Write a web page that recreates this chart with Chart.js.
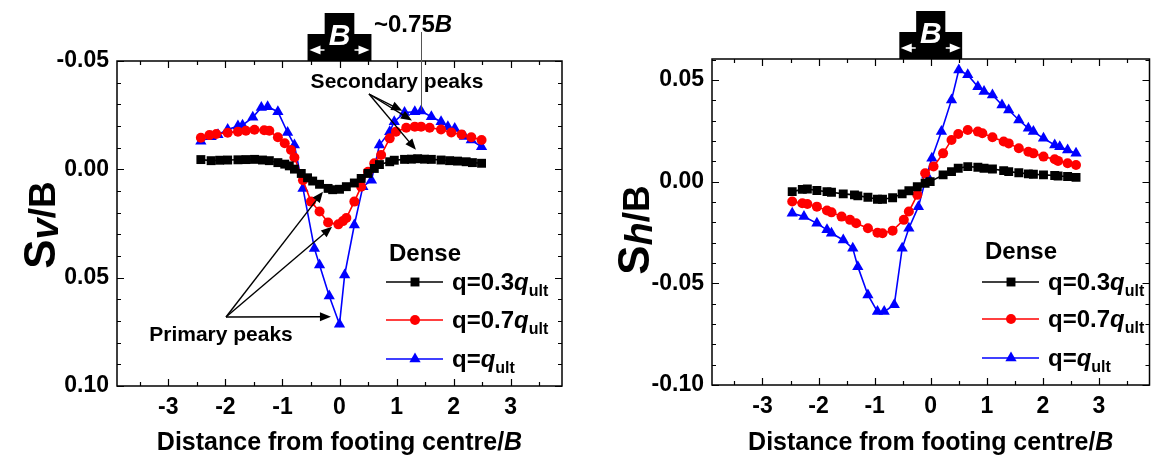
<!DOCTYPE html>
<html>
<head>
<meta charset="utf-8">
<script src="https://cdn.jsdelivr.net/npm/chart.js@4.4.1/dist/chart.umd.min.js"></script>
<style>
html, body { margin: 0; padding: 0; background: #fff; }
#wrap { position: relative; width: 1156px; height: 457px; }
.box { position: absolute; top: 0; width: 578px; height: 457px; }
</style>
</head>
<body>
<div id="wrap">
  <div class="box" style="left:0"><canvas id="sv"></canvas></div>
  <div class="box" style="left:578px"><canvas id="sh"></canvas></div>
</div>
<script>
// ---- data ----
const xTicks = [-3, -2, -1, 0, 1, 2, 3];
const svTicks = [-0.05, 0.00, 0.05, 0.10];
const shTicks = [-0.10, -0.05, 0.00, 0.05];

// vertical settlement S_v/B
const svX03 = [-2.43,-2.25,-2.10,-1.96,-1.78,-1.64,-1.49,-1.35,-1.23,-1.08,-0.96,-0.88,-0.79,-0.67,-0.56,-0.47,-0.35,-0.20,-0.12,0.00,0.12,0.26,0.38,0.50,0.61,0.70,0.88,0.96,1.14,1.26,1.37,1.49,1.61,1.78,1.93,2.07,2.22,2.33,2.49];
const svY03 = [-0.0045,-0.0040,-0.0042,-0.0043,-0.0044,-0.0045,-0.0046,-0.0043,-0.0040,-0.0031,-0.0024,-0.0016,-0.0001,0.0019,0.0039,0.0054,0.0069,0.0088,0.0094,0.0092,0.0080,0.0063,0.0042,0.0019,-0.0004,-0.0022,-0.0035,-0.0042,-0.0046,-0.0047,-0.0049,-0.0047,-0.0046,-0.0043,-0.0040,-0.0038,-0.0035,-0.0031,-0.0028];
const svX07 = [-2.43,-2.28,-2.16,-1.96,-1.78,-1.64,-1.49,-1.32,-1.23,-1.08,-0.96,-0.85,-0.79,-0.64,-0.50,-0.35,-0.20,-0.02,0.06,0.12,0.26,0.38,0.50,0.61,0.73,0.88,0.99,1.17,1.32,1.43,1.58,1.78,1.96,2.14,2.31,2.49];
const svY07 = [-0.0146,-0.0158,-0.0163,-0.0169,-0.0174,-0.0178,-0.0183,-0.0180,-0.0178,-0.0148,-0.0120,-0.0089,-0.0055,0.0050,0.0149,0.0195,0.0245,0.0254,0.0239,0.0225,0.0149,0.0080,0.0011,-0.0028,-0.0066,-0.0143,-0.0174,-0.0192,-0.0197,-0.0197,-0.0192,-0.0184,-0.0170,-0.0161,-0.0148,-0.0135];
const svX10 = [-2.43,-2.25,-2.13,-1.96,-1.78,-1.70,-1.52,-1.37,-1.26,-1.08,-0.91,-0.79,-0.64,-0.44,-0.35,-0.18,0.00,0.09,0.26,0.41,0.56,0.70,0.88,0.96,1.14,1.32,1.43,1.61,1.78,1.90,2.02,2.19,2.31,2.49];
const svY10 = [-0.0130,-0.0150,-0.0160,-0.0184,-0.0200,-0.0204,-0.0240,-0.0285,-0.0289,-0.0266,-0.0170,-0.0112,0.0088,0.0365,0.0442,0.0585,0.0715,0.0488,0.0257,0.0080,0.0050,-0.0112,-0.0174,-0.0220,-0.0262,-0.0266,-0.0269,-0.0243,-0.0220,-0.0197,-0.0189,-0.0151,-0.0135,-0.0104];

// horizontal displacement S_h/B
const shX03 = [-2.47,-2.29,-2.20,-2.03,-1.85,-1.77,-1.56,-1.36,-1.30,-1.12,-0.95,-0.86,-0.68,-0.51,-0.39,-0.24,-0.10,-0.01,0.22,0.37,0.49,0.66,0.84,0.95,1.10,1.30,1.39,1.57,1.74,1.83,2.01,2.21,2.27,2.44,2.59];
const shY03 = [-0.0049,-0.0038,-0.0036,-0.0044,-0.0049,-0.0052,-0.0060,-0.0065,-0.0070,-0.0077,-0.0087,-0.0087,-0.0079,-0.0060,-0.0045,-0.0025,-0.0008,0.0000,0.0033,0.0049,0.0066,0.0074,0.0071,0.0066,0.0062,0.0054,0.0049,0.0044,0.0038,0.0036,0.0033,0.0030,0.0028,0.0025,0.0021];
const shX07 = [-2.47,-2.29,-2.20,-2.03,-1.85,-1.77,-1.59,-1.44,-1.33,-1.12,-0.95,-0.86,-0.68,-0.48,-0.39,-0.24,-0.10,0.05,0.22,0.37,0.49,0.66,0.84,0.92,1.10,1.30,1.39,1.57,1.74,1.83,2.01,2.21,2.27,2.44,2.59];
const shY07 = [-0.0098,-0.0106,-0.0110,-0.0123,-0.0142,-0.0151,-0.0172,-0.0188,-0.0205,-0.0229,-0.0251,-0.0254,-0.0241,-0.0188,-0.0147,-0.0065,0.0041,0.0074,0.0139,0.0205,0.0234,0.0254,0.0246,0.0238,0.0218,0.0197,0.0188,0.0164,0.0147,0.0139,0.0123,0.0110,0.0102,0.0090,0.0082];
const shX10 = [-2.47,-2.26,-2.03,-1.85,-1.77,-1.56,-1.39,-1.30,-1.12,-0.95,-0.83,-0.65,-0.51,-0.39,-0.22,-0.07,0.02,0.19,0.37,0.50,0.66,0.84,0.95,1.10,1.27,1.39,1.57,1.74,1.83,2.01,2.21,2.30,2.44,2.59];
const shY10 = [-0.0155,-0.0172,-0.0205,-0.0237,-0.0254,-0.0287,-0.0328,-0.0418,-0.0557,-0.0639,-0.0639,-0.0606,-0.0328,-0.0229,-0.0123,0.0033,0.0115,0.0246,0.0402,0.0549,0.0525,0.0467,0.0443,0.0426,0.0377,0.0352,0.0303,0.0262,0.0246,0.0213,0.0180,0.0172,0.0156,0.0139];

const seriesLabels = ['q=0.3q_ult', 'q=0.7q_ult', 'q=q_ult'];

const FONT = '"Liberation Sans", Arial, sans-serif';
const styles = [
  { color: '#000000', pointStyle: 'rect', radius: 6.3 },
  { color: '#ff0000', pointStyle: 'circle', radius: 5 },
  { color: '#0000ff', pointStyle: 'triangle', radius: 6.5 }
];

const zip = (xs, ys) => xs.map((x, i) => ({ x: x, y: ys[i] }));

const makeSets = (pairs) => pairs.map((p, i) => ({
  label: seriesLabels[i],
  data: zip(p[0], p[1]),
  showLine: true,
  borderColor: styles[i].color,
  backgroundColor: styles[i].color,
  borderWidth: 1.6,
  pointStyle: styles[i].pointStyle,
  pointRadius: styles[i].radius,
  pointBorderWidth: 0,
  pointHoverRadius: styles[i].radius
}));

// ---- drawing helpers ----
const setFont = (ctx, size, italic) => {
  ctx.font = `${italic ? 'italic ' : ''}bold ${size}px ${FONT}`;
};

// parts: [text, size, italic, dy]
const rich = (ctx, parts, x, y, align) => {
  let w = 0;
  parts.forEach(p => { setFont(ctx, p[1], p[2]); w += ctx.measureText(p[0]).width; });
  let cx = align === 'center' ? x - w / 2 : x;
  ctx.textAlign = 'left';
  ctx.textBaseline = 'alphabetic';
  parts.forEach(p => {
    setFont(ctx, p[1], p[2]);
    ctx.fillText(p[0], cx, y + (p[3] || 0));
    cx += ctx.measureText(p[0]).width;
  });
};

const arrow = (ctx, x1, y1, x2, y2, color, lw) => {
  const ang = Math.atan2(y2 - y1, x2 - x1);
  const hl = 11, hw = 4.5;
  ctx.strokeStyle = color; ctx.fillStyle = color; ctx.lineWidth = lw || 1.4;
  ctx.beginPath();
  ctx.moveTo(x1, y1);
  ctx.lineTo(x2 - Math.cos(ang) * hl * 0.8, y2 - Math.sin(ang) * hl * 0.8);
  ctx.stroke();
  ctx.beginPath();
  ctx.moveTo(x2, y2);
  ctx.lineTo(x2 - Math.cos(ang) * hl - Math.sin(ang) * hw, y2 - Math.sin(ang) * hl + Math.cos(ang) * hw);
  ctx.lineTo(x2 - Math.cos(ang) * hl + Math.sin(ang) * hw, y2 - Math.sin(ang) * hl - Math.cos(ang) * hw);
  ctx.closePath();
  ctx.fill();
};

const marker = (ctx, style, x, y) => {
  ctx.fillStyle = style.color;
  ctx.beginPath();
  const r = style.radius;
  if (style.pointStyle === 'rect') {
    const s = r * Math.SQRT1_2;
    ctx.rect(x - s, y - s, 2 * s, 2 * s);
  } else if (style.pointStyle === 'circle') {
    ctx.arc(x, y, r, 0, Math.PI * 2);
  } else {
    ctx.moveTo(x, y - r);
    ctx.lineTo(x + r * 0.866, y + r * 0.5);
    ctx.lineTo(x - r * 0.866, y + r * 0.5);
    ctx.closePath();
  }
  ctx.fill();
};

const decor = (cfg) => ({
  id: 'decor',
  afterDraw(chart) {
    const ctx = chart.ctx;
    const a = chart.chartArea;
    const xs = chart.scales.x, ys = chart.scales.y;
    const px = v => xs.getPixelForValue(v);
    const py = v => ys.getPixelForValue(v);
    ctx.save();

    // frame
    ctx.strokeStyle = '#000'; ctx.lineWidth = 1.5;
    ctx.strokeRect(a.left, a.top, a.right - a.left, a.bottom - a.top);
    // inward ticks on all sides
    ctx.lineWidth = 1.2;
    ctx.beginPath();
    for (let v = -3.5; v <= 3.51; v += 0.5) {
      const len = Number.isInteger(v) ? 7 : 4;
      const x = Math.round(px(v)) + 0.5;
      ctx.moveTo(x, a.bottom); ctx.lineTo(x, a.bottom - len);
      ctx.moveTo(x, a.top); ctx.lineTo(x, a.top + len);
    }
    for (let k = Math.round(ys.min * 100); k <= Math.round(ys.max * 100); k++) {
      const len = k % 5 === 0 ? 7 : 4;
      const y = Math.round(py(k / 100)) + 0.5;
      ctx.moveTo(a.left, y); ctx.lineTo(a.left + len, y);
      ctx.moveTo(a.right, y); ctx.lineTo(a.right - len, y);
    }
    ctx.stroke();

    // footing sketch above the plot
    const c0 = px(0), u = px(1) - px(0);
    ctx.fillStyle = '#000';
    ctx.beginPath();
    ctx.moveTo(c0 - 0.26 * u, a.top - 48);
    ctx.lineTo(c0 + 0.26 * u, a.top - 48);
    ctx.lineTo(c0 + 0.26 * u, a.top - 27);
    ctx.lineTo(c0 + 0.56 * u, a.top - 27);
    ctx.lineTo(c0 + 0.56 * u, a.top);
    ctx.lineTo(c0 - 0.56 * u, a.top);
    ctx.lineTo(c0 - 0.56 * u, a.top - 27);
    ctx.lineTo(c0 - 0.26 * u, a.top - 27);
    ctx.closePath();
    ctx.fill();
    ctx.fillStyle = '#fff';
    rich(ctx, [['B', 30, true]], c0, a.top - 16, 'center');
    arrow(ctx, c0 - 15, a.top - 11, c0 - 30, a.top - 11, '#fff', 1.5);
    arrow(ctx, c0 + 15, a.top - 11, c0 + 30, a.top - 11, '#fff', 1.5);

    // legend
    const L = cfg.legend;
    ctx.fillStyle = '#000';
    rich(ctx, [['Dense', 24, false]], L.x, L.y0 + 9, 'left');
    const names = [
      [['q=0.3', 24, false], ['q', 24, true], ['ult', 16, false, 6]],
      [['q=0.7', 24, false], ['q', 24, true], ['ult', 16, false, 6]],
      [['q=', 24, false], ['q', 24, true], ['ult', 16, false, 6]]
    ];
    L.rows.forEach((ry, i) => {
      ctx.strokeStyle = styles[i].color; ctx.lineWidth = 1.6;
      ctx.beginPath(); ctx.moveTo(L.x - 3, ry); ctx.lineTo(L.x + 54, ry); ctx.stroke();
      marker(ctx, styles[i], L.x + 26, ry);
      ctx.fillStyle = '#000';
      rich(ctx, names[i], L.x + 63, ry + 8, 'left');
    });

    // axis titles
    ctx.fillStyle = '#000';
    rich(ctx, [['Distance from footing centre/', 25, false], ['B', 25, true]], (a.left + a.right) / 2, 450, 'center');
    ctx.save();
    ctx.translate(cfg.yTitle.x, cfg.yTitle.y);
    ctx.rotate(-Math.PI / 2);
    rich(ctx, [['S', 44, false], [cfg.yTitle.sub, 38, true, 3], ['/B', 37, false]], 0, 0, 'center');
    ctx.restore();

    if (cfg.extra) cfg.extra(ctx, px, py);
    ctx.restore();
  }
});

const makeChart = (id, sets, yMin, yMax, reverse, yTicks, pad, yWidth, cfg) => new Chart(
  document.getElementById(id),
  {
    type: 'scatter',
    data: { datasets: sets },
    options: {
      responsive: true,
      maintainAspectRatio: false,
      animation: false,
      devicePixelRatio: 1,
      layout: { padding: pad },
      plugins: { legend: { display: false }, tooltip: { enabled: false } },
      scales: {
        x: {
          min: -3.9, max: 3.9,
          grid: { display: false, drawTicks: false },
          border: { display: false },
          afterBuildTicks: s => { s.ticks = xTicks.map(v => ({ value: v })); },
          afterFit: s => { s.height = cfg.xHeight; },
          ticks: { color: '#000', padding: 8, font: { family: FONT, size: 23, weight: 'bold' }, maxRotation: 0 }
        },
        y: {
          min: yMin, max: yMax, reverse: reverse,
          grid: { display: false, drawTicks: false },
          border: { display: false },
          afterBuildTicks: s => { s.ticks = yTicks.map(v => ({ value: v })); },
          afterFit: s => { s.width = yWidth; },
          ticks: {
            color: '#000', padding: 8,
            font: { family: FONT, size: 23, weight: 'bold' },
            callback: v => v.toFixed(2)
          }
        }
      }
    },
    plugins: [decor(cfg)]
  }
);

makeChart('sv',
  makeSets([[svX03, svY03], [svX07, svY07], [svX10, svY10]]),
  -0.05, 0.10, true, svTicks,
  { top: 61, right: 16, left: 0, bottom: 0 }, 117,
  {
    xHeight: 71,
    legend: { x: 389, y0: 252, rows: [282, 320, 359] },
    yTitle: { x: 55, y: 225, sub: 'v' },
    extra: (ctx, px, py) => {
      ctx.fillStyle = '#000';
      rich(ctx, [['~0.75', 24, false], ['B', 24, true]], 374, 32, 'left');
      ctx.strokeStyle = '#555'; ctx.lineWidth = 1;
      ctx.beginPath(); ctx.moveTo(421.5, 32); ctx.lineTo(421.5, py(-0.0272)); ctx.stroke();
      rich(ctx, [['Secondary peaks', 21, false]], 397, 88, 'center');
      [[1.1, -0.027], [1.27, -0.0225], [1.34, -0.009]].forEach(t => arrow(ctx, 369, 94, px(t[0]), py(t[1]), '#000'));
      rich(ctx, [['Primary peaks', 21, false]], 221, 341, 'center');
      [[-0.29, 0.0103], [-0.13, 0.0265], [-0.15, 0.068]].forEach(t => arrow(ctx, 226, 317, px(t[0]), py(t[1]), '#000'));
    }
  }
);

makeChart('sh',
  makeSets([[shX03, shY03], [shX07, shY07], [shX10, shY10]]),
  -0.10, 0.0603, false, shTicks,
  { top: 59, right: 2, left: 0, bottom: 0 }, 134,
  {
    xHeight: 72,
    legend: { x: 407, y0: 250, rows: [282, 319, 358] },
    yTitle: { x: 71, y: 230, sub: 'h' }
  }
);
</script>
</body>
</html>
